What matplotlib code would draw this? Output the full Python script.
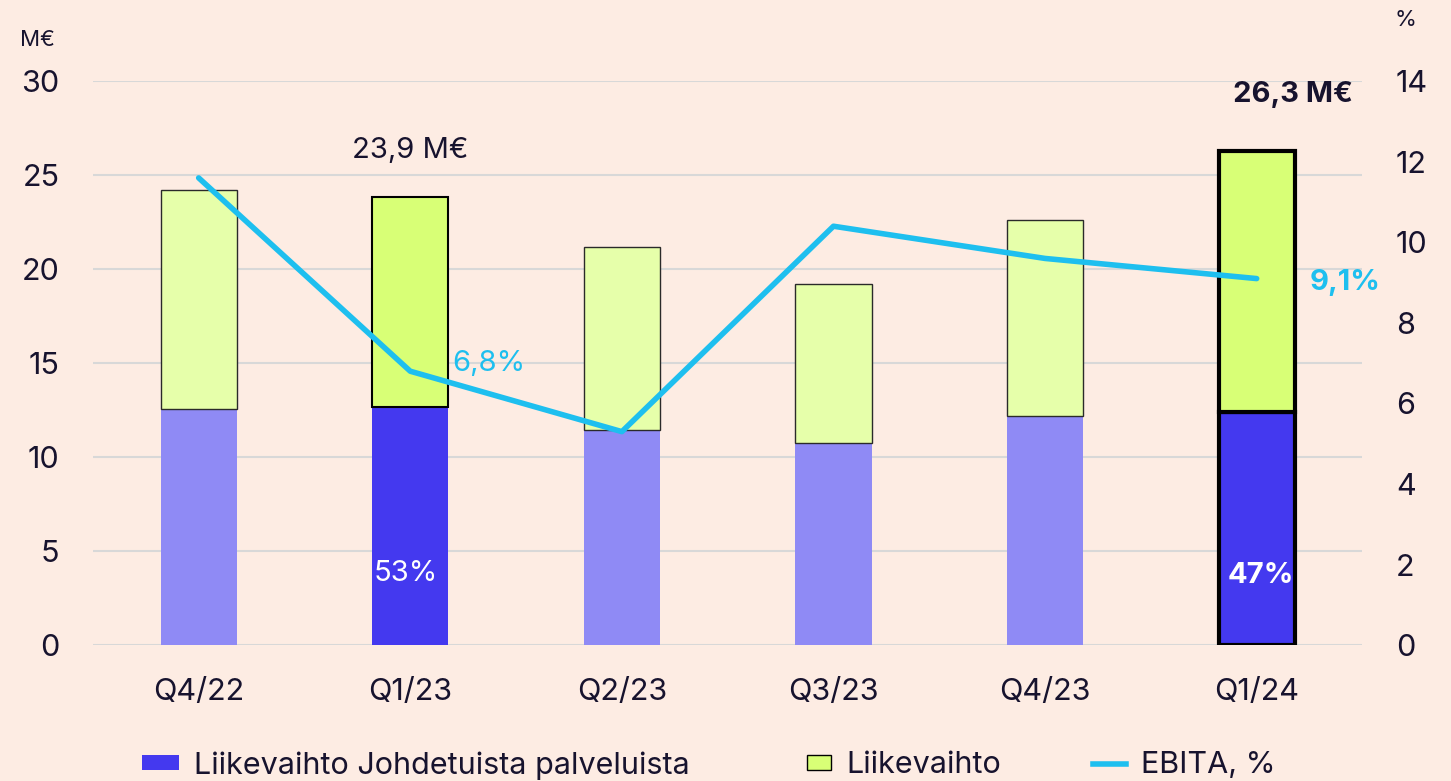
import numpy as np
import matplotlib.pyplot as plt
from matplotlib.patches import Patch
from matplotlib.lines import Line2D

plt.rcParams['font.family'] = ['Inter', 'DejaVu Sans']

kvartaalit = ["Q4/22", "Q1/23", "Q2/23", "Q3/23", "Q4/23", "Q1/24"]
johdetut = [12.55, 12.65, 11.45, 10.75, 12.2, 12.4]
liikevaihto = [24.2, 23.85, 21.2, 19.2, 22.6, 26.3]
ebita = [11.6, 6.8, 5.3, 10.4, 9.6, 9.1]

tausta = "#FDECE3"
tumma = "#17132E"
sininen = "#4439EF"
vaalea_sininen = "#8F8AF5"
lime = "#D8FF76"
vaalea_lime = "#E6FFAA"
syaani = "#1EBFEF"

fig = plt.figure(figsize=(14.51, 7.81), dpi=100, facecolor=tausta)
ax = fig.add_axes([0.064, 0.174, 0.875, 0.722])
ax.set_facecolor(tausta)

x = np.arange(len(kvartaalit))
muut = np.array(liikevaihto) - np.array(johdetut)

for i in x:
    korostus = i in (1, 5)
    c1 = sininen if korostus else vaalea_sininen
    c2 = lime if korostus else vaalea_lime
    lw = 3 if i == 5 else (1.5 if i == 1 else 1.0)
    ec = "black" if korostus else "#2a2a2a"
    ax.bar(i, johdetut[i], 0.36, color=c1, edgecolor=ec if i == 5 else "none",
           linewidth=lw, zorder=2)
    ax.bar(i, muut[i], 0.36, bottom=johdetut[i], color=c2, edgecolor=ec,
           linewidth=lw, zorder=2)

ax.set_xlim(-0.5, 5.5)
ax.set_ylim(0, 30)
ax.set_yticks(range(0, 31, 5))
ax.set_xticks(x)
ax.set_xticklabels(kvartaalit)
ax.grid(axis='y', color="#D8D8D8", linewidth=1.5, zorder=0)
ax.set_axisbelow(True)
for s in ax.spines.values():
    s.set_visible(False)
ax.tick_params(axis='both', length=0, labelsize=22, colors=tumma)
ax.tick_params(axis='x', pad=24)
ax.tick_params(axis='y', pad=24)

ax2 = ax.twinx()
ax2.plot(x, ebita, color=syaani, linewidth=4, solid_capstyle='round', zorder=3)
ax2.set_ylim(0, 14)
ax2.set_yticks(range(0, 15, 2))
for s in ax2.spines.values():
    s.set_visible(False)
ax2.tick_params(axis='y', length=0, labelsize=22, colors=tumma, pad=24)

fig.text(0.014, 0.949, "M€", fontsize=16, color=tumma, va='center')
fig.text(0.961, 0.975, "%", fontsize=16, color=tumma, va='center')

ax.text(1, 25.6, "23,9 M€", ha='center', va='bottom', fontsize=21, color=tumma)
ax.text(5.17, 28.6, "26,3 M€", ha='center', va='bottom', fontsize=21,
        fontweight='bold', color=tumma)
ax.text(0.98, 3.8, "53%", ha='center', va='center', fontsize=21, color='white')
ax.text(5.02, 3.7, "47%", ha='center', va='center', fontsize=21,
        fontweight='bold', color='white')
ax2.text(1.2, 7.0, "6,8%", ha='left', va='center', fontsize=21, color=syaani)
ax2.text(5.25, 9.0, "9,1%", ha='left', va='center', fontsize=21,
         fontweight='bold', color=syaani)

selitteet = [
    (Patch(facecolor=sininen, edgecolor='none'), "Liikevaihto Johdetuista palveluista", 0.079, 1.2),
    (Patch(facecolor=lime, edgecolor='black'), "Liikevaihto", 0.537, 0.8),
    (Line2D([], [], color=syaani, linewidth=4), "EBITA, %", 0.734, 1.1),
]
for kahva, teksti, xpos, pituus in selitteet:
    fig.legend([kahva], [teksti], loc='center left', bbox_to_anchor=(xpos, 0.02),
               frameon=False, fontsize=22, handlelength=pituus, handleheight=0.4,
               handletextpad=0.5, labelcolor=tumma)

fig.savefig("out.png", dpi=100, facecolor=tausta)
